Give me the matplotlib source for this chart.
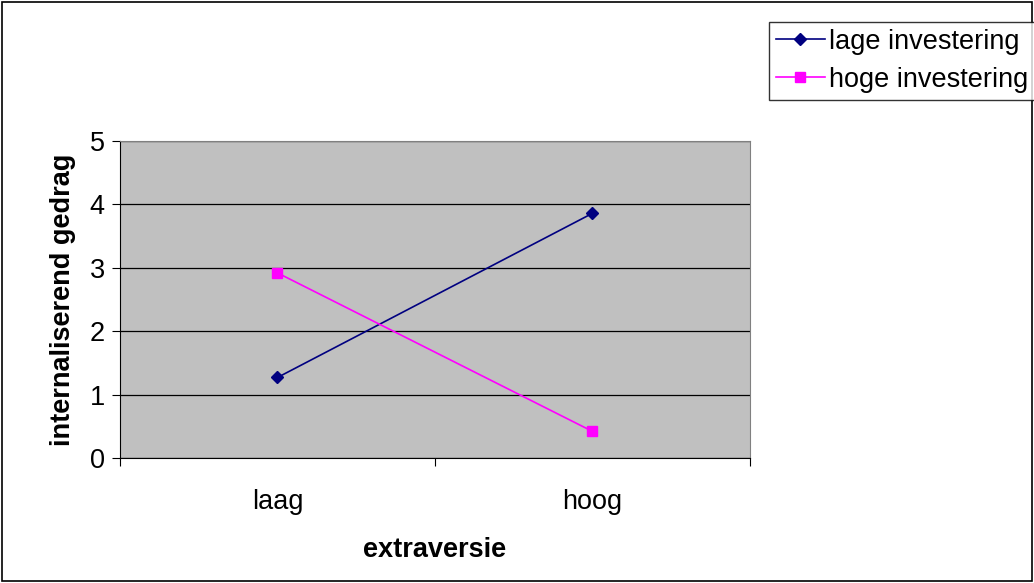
import matplotlib.pyplot as plt
from matplotlib.patches import Rectangle

# --- data ---
categories = ['laag', 'hoog']
lage = [1.27, 3.86]
hoge = [2.92, 0.42]

plt.rcParams['font.family'] = ['Liberation Sans', 'DejaVu Sans']
FS = 19.5

fig = plt.figure(figsize=(10.34, 5.83), dpi=100)
fig.patches.append(Rectangle((0.002, 0.003), 0.996, 0.994, transform=fig.transFigure,
                             fill=False, edgecolor='black', lw=1.2))

ax = fig.add_axes([0.116, 0.2144, 0.6093, 0.5437])
ax.set_facecolor('#C0C0C0')

xs = [i + 0.5 for i in range(len(categories))]
ax.plot(xs, lage, color='#000080', lw=1.2, marker='D', ms=6, label='lage investering')
ax.plot(xs, hoge, color='#FF00FF', lw=1.2, marker='s', ms=7, label='hoge investering')

ax.set_xlim(0, len(categories))
ax.set_ylim(0, 5)
ax.set_yticks(range(6))
ax.set_xticks(range(len(categories) + 1))
ax.set_xticklabels([])
ax.set_xticks(xs, minor=True)
ax.set_xticklabels(categories, minor=True)
ax.tick_params(axis='x', which='minor', length=0, pad=22, labelsize=FS)
ax.tick_params(axis='x', which='major', length=6, direction='out')
ax.tick_params(axis='y', length=6, direction='out', labelsize=FS, pad=5)
ax.grid(axis='y', color='black', lw=0.9)
ax.set_axisbelow(True)
for s in ax.spines.values():
    s.set_color('#808080')
ax.spines['left'].set_color('black')
ax.spines['bottom'].set_color('black')

ax.set_xlabel('extraversie', fontsize=FS, fontweight='bold', labelpad=16)
ax.set_ylabel('internaliserend gedrag', fontsize=FS, fontweight='bold', labelpad=10)

leg = fig.legend(loc='upper left', bbox_to_anchor=(769 / 1034, 1 - 22 / 583),
                 fontsize=FS, frameon=True, fancybox=False, edgecolor='black',
                 borderpad=0.25, labelspacing=0.45, handlelength=1.8, handletextpad=0.15,
                 borderaxespad=0)
leg.get_frame().set_linewidth(1.0)

fig.savefig('out.png', dpi=100)
